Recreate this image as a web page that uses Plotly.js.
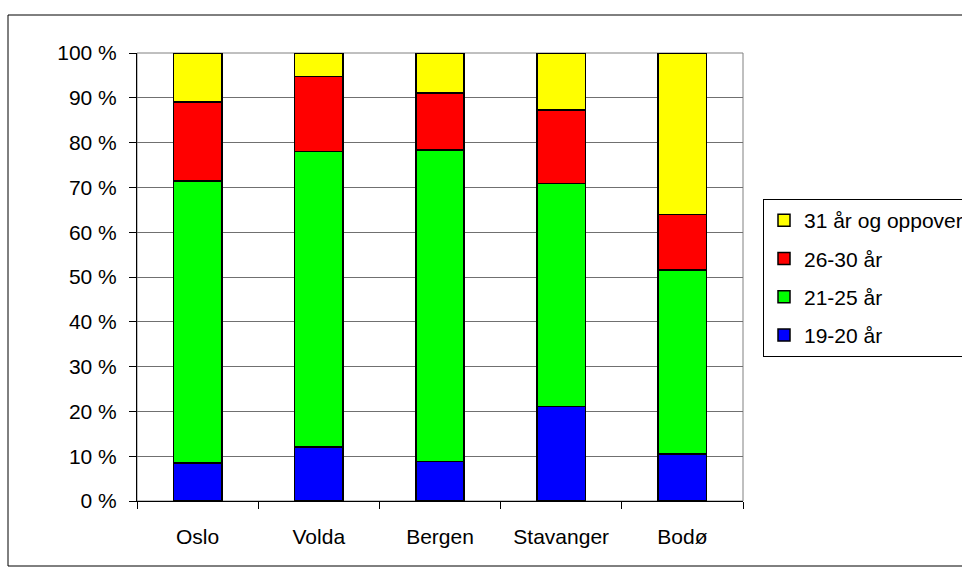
<!DOCTYPE html>
<html>
<head>
<meta charset="utf-8">
<script src="https://cdn.plot.ly/plotly-3.0.1.min.js"></script>
<style>
html,body{margin:0;padding:0;background:#fff;}
#chart{width:962px;height:568px;}
</style>
</head>
<body>
<div id="chart"></div>
<script>
const categories = ["Oslo", "Volda", "Bergen", "Stavanger", "Bodø"];
const seriesNames = ["19-20 år", "21-25 år", "26-30 år", "31 år og oppover"];
const age19_20 = [8.5, 12.1, 8.8, 21.1, 10.5];
const age21_25 = [62.9, 65.9, 69.5, 49.8, 41.1];
const age26_30 = [17.7, 16.8, 12.8, 16.4, 12.4];
const age31plus = [10.9, 5.2, 8.9, 12.7, 36.0];
const colors = ["#0000FF", "#00FF00", "#FF0000", "#FFFF00"];
const yTickVals = [0, 10, 20, 30, 40, 50, 60, 70, 80, 90, 100];
const yTickText = ["0 %", "10 %", "20 %", "30 %", "40 %", "50 %", "60 %", "70 %", "80 %", "90 %", "100 %"];

const values = [age19_20, age21_25, age26_30, age31plus];
const FONT = "'Liberation Sans', Arial, sans-serif";
const FS = 21;

const traces = values.map((v, i) => ({
  type: "bar",
  name: seriesNames[i],
  x: categories,
  y: v,
  legendgroup: "g" + i,
  legendrank: 1000 - i,
  marker: {color: colors[i], line: {color: "#000000", width: 1.5}},
  hoverinfo: "name+y"
}));

const L = 137, R = 743, T = 53, B = 501;
const W = 962, H = 568;
const pw = R - L, ph = B - T;
function px(x){ return (x - L) / pw; }
function py(y){ return (B - y) / ph; }

const layout = {
  width: W, height: H,
  margin: {l: L, r: W - R, t: T, b: H - B, pad: 0, autoexpand: false},
  paper_bgcolor: "#ffffff",
  plot_bgcolor: "#ffffff",
  barmode: "stack",
  bargap: 0.6,
  font: {family: FONT, size: FS, color: "#000000"},
  showlegend: true,
  legend: {
    x: px(763), y: py(199), xanchor: "left", yanchor: "top",
    bordercolor: "#000000", borderwidth: 1, bgcolor: "#ffffff",
    font: {family: FONT, size: FS, color: "#000000"},
    traceorder: "grouped", tracegroupgap: 8,
    itemwidth: 30
  },
  xaxis: {
    type: "category",
    automargin: false,
    showline: true, linecolor: "#000000", linewidth: 1,
    ticks: "outside", ticklen: 7, tickcolor: "#000000", tickwidth: 1,
    tickson: "boundaries",
    ticklabelstandoff: 17,
    showgrid: false,
    tickfont: {family: FONT, size: FS, color: "#000000"},
    fixedrange: true
  },
  yaxis: {
    range: [0, 100],
    automargin: false,
    tickvals: yTickVals, ticktext: yTickText,
    showline: true, linecolor: "#000000", linewidth: 1,
    ticks: "outside", ticklen: 7, tickcolor: "#000000", tickwidth: 1,
    ticklabelstandoff: 8,
    showgrid: true, gridcolor: "#707070", gridwidth: 1,
    zeroline: false,
    tickfont: {family: FONT, size: FS, color: "#000000"},
    fixedrange: true
  },
  shapes: [
    {type: "rect", xref: "paper", yref: "paper", x0: 0, x1: 1, y0: 0, y1: 1,
     line: {color: "#808080", width: 1}, layer: "below"},
    {type: "rect", xref: "paper", yref: "paper",
     x0: px(8), x1: px(975), y0: py(566), y1: py(15),
     line: {color: "#000000", width: 1}, fillcolor: "rgba(0,0,0,0)", layer: "below"}
  ]
};

Plotly.newPlot("chart", traces, layout, {displayModeBar: false, staticPlot: true});
</script>
</body>
</html>
